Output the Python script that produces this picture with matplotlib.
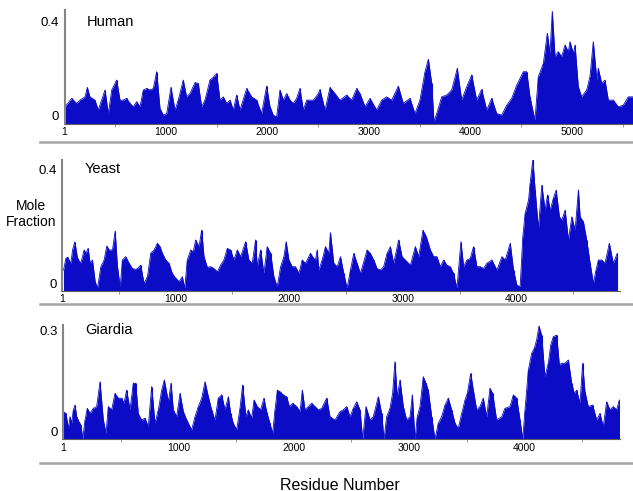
import matplotlib
matplotlib.use("Agg")
import matplotlib.pyplot as plt
from matplotlib.lines import Line2D

plt.rcParams['font.family'] = ['Liberation Sans', 'DejaVu Sans']

# residue number / mole fraction
human_res = [5, 71, 120, 153, 202, 225, 251, 300, 333, 366,
             399, 432, 465, 514, 547, 580, 612, 645, 678, 711,
             744, 777, 810, 842, 875, 908, 941, 974, 1007, 1049,
             1089, 1121, 1170, 1203, 1236, 1286, 1318, 1351, 1384, 1433,
             1466, 1499, 1532, 1565, 1598, 1631, 1663, 1696, 1729, 1795,
             1844, 1893, 1942, 1991, 2025, 2057, 2090, 2123, 2156, 2189,
             2222, 2254, 2287, 2320, 2353, 2386, 2452, 2501,
             2517, 2567, 2616, 2665, 2714, 2780, 2829, 2879, 2911, 2961,
             3010, 3076, 3125, 3174, 3224, 3289, 3338, 3404, 3453, 3502,
             3552, 3585, 3618, 3640, 3667, 3716, 3766, 3815, 3870, 3913,
             3963, 4012, 4061, 4110, 4160, 4209, 4258, 4307, 4357, 4406,
             4455, 4521, 4554, 4586, 4635, 4668, 4718, 4757, 4783, 4806,
             4833, 4865, 4898, 4931, 4964, 4980, 5013, 5030, 5062, 5095,
             5145, 5177, 5210, 5245, 5259, 5293, 5325, 5358, 5407, 5456,
             5505, 5555, 5601]
human_frac = [0.066, 0.099, 0.079, 0.092, 0.105, 0.142, 0.105, 0.092, 0.053, 0.092,
              0.132, 0.039, 0.132, 0.171, 0.092, 0.092, 0.099, 0.079, 0.066, 0.086,
              0.066, 0.132, 0.138, 0.132, 0.138, 0.204, 0.059, 0.033, 0.039, 0.142,
              0.053, 0.092, 0.171, 0.105, 0.118, 0.161, 0.158, 0.066, 0.092, 0.171,
              0.182, 0.197, 0.092, 0.105, 0.079, 0.092, 0.053, 0.112, 0.053, 0.138,
              0.105, 0.092, 0.039, 0.147, 0.066, 0.033, 0.026, 0.132, 0.092, 0.118,
              0.092, 0.079, 0.099, 0.138, 0.053, 0.092, 0.092, 0.118,
              0.134, 0.053, 0.142, 0.118, 0.092, 0.112, 0.092, 0.138, 0.118, 0.066,
              0.099, 0.053, 0.092, 0.105, 0.092, 0.147, 0.079, 0.099, 0.039, 0.092,
              0.204, 0.253, 0.158, 0.007, 0.039, 0.105, 0.112, 0.132, 0.217, 0.092,
              0.145, 0.191, 0.092, 0.134, 0.053, 0.099, 0.039, 0.033, 0.072, 0.099,
              0.151, 0.204, 0.204, 0.105, 0.013, 0.184, 0.237, 0.355, 0.276, 0.441,
              0.263, 0.283, 0.263, 0.309, 0.283, 0.322, 0.276, 0.309, 0.145, 0.105,
              0.132, 0.184, 0.322, 0.171, 0.217, 0.158, 0.171, 0.092, 0.092, 0.066,
              0.072, 0.105, 0.105]

yeast_res = [15, 35, 50, 79, 94, 114, 138, 167, 196, 211,
             231, 249, 269, 293, 313, 343, 372, 395, 416, 445,
             469, 489, 513, 533, 562, 592, 621, 650, 665, 694,
             723, 753, 782, 811, 841, 864, 885, 914, 943, 972,
             1002, 1031, 1060, 1081, 1104, 1134, 1157, 1177, 1207, 1230,
             1251, 1280, 1309, 1339, 1368, 1397, 1426, 1456, 1485, 1514,
             1544, 1573, 1617, 1646, 1675, 1705, 1719, 1749, 1778, 1807,
             1837, 1866, 1895, 1925, 1954, 1974, 1998, 2027, 2056, 2086,
             2115, 2144, 2188, 2217, 2247,
             2232, 2261, 2291, 2320, 2349, 2364, 2393, 2423, 2452, 2481,
             2510, 2540, 2569, 2598, 2627, 2657, 2686, 2715, 2745, 2774,
             2803, 2832, 2862, 2891, 2920, 2964, 2994, 3023, 3067, 3111,
             3140, 3178, 3207, 3243, 3272, 3301, 3330, 3360, 3389, 3418,
             3447, 3477, 3512, 3536, 3565, 3594, 3623, 3653, 3682, 3711,
             3740, 3784, 3829, 3873, 3902, 3946, 3975, 4004, 4033, 4057,
             4077, 4107, 4121, 4145, 4165, 4194, 4224, 4253, 4274, 4297,
             4326, 4350, 4379, 4400, 4429, 4458, 4488, 4517, 4546, 4561,
             4590, 4619, 4649, 4678, 4701, 4722, 4751, 4780, 4818, 4853,
             4888]
yeast_frac = [0.068, 0.106, 0.110, 0.090, 0.134, 0.161, 0.106, 0.090, 0.134, 0.123,
              0.139, 0.090, 0.101, 0.030, 0.008, 0.079, 0.101, 0.147, 0.134, 0.134,
              0.196, 0.079, 0.013, 0.101, 0.112, 0.090, 0.073, 0.070, 0.073, 0.084,
              0.024, 0.046, 0.123, 0.134, 0.156, 0.145, 0.123, 0.101, 0.090, 0.057,
              0.041, 0.030, 0.046, 0.008, 0.101, 0.134, 0.128, 0.167, 0.145, 0.199,
              0.112, 0.077, 0.079, 0.073, 0.062, 0.084, 0.101, 0.139, 0.134, 0.101,
              0.134, 0.112, 0.161, 0.101, 0.090, 0.167, 0.079, 0.134, 0.057, 0.145,
              0.123, 0.046, 0.013, 0.079, 0.112, 0.161, 0.101, 0.079, 0.079, 0.057,
              0.101, 0.090, 0.123, 0.106, 0.134,
              0.101, 0.068, 0.101, 0.145, 0.123, 0.191, 0.090, 0.079, 0.112, 0.057,
              0.008, 0.068, 0.123, 0.090, 0.057, 0.095, 0.134, 0.123, 0.101, 0.073,
              0.068, 0.079, 0.123, 0.145, 0.090, 0.167, 0.112, 0.101, 0.084, 0.145,
              0.112, 0.199, 0.178, 0.134, 0.112, 0.112, 0.079, 0.101, 0.084, 0.079,
              0.057, 0.008, 0.161, 0.079, 0.101, 0.106, 0.145, 0.079, 0.079, 0.073,
              0.090, 0.101, 0.068, 0.112, 0.101, 0.156, 0.068, 0.019, 0.013, 0.178,
              0.254, 0.298, 0.353, 0.432, 0.331, 0.205, 0.347, 0.265, 0.315, 0.265,
              0.304, 0.331, 0.243, 0.232, 0.265, 0.167, 0.243, 0.199, 0.331, 0.243,
              0.227, 0.167, 0.090, 0.024, 0.068, 0.101, 0.101, 0.090, 0.156, 0.090,
              0.123]

giardia_res = [3, 26, 46, 61, 75, 90, 104, 119, 139, 156,
               171, 191, 211, 234, 263, 292, 321, 350, 373, 393,
               422, 451, 480, 509, 529, 552, 581, 610, 630, 653,
               682, 711, 740, 769, 798, 827, 856, 879, 914, 937,
               957, 986, 1015, 1044, 1073, 1116, 1145, 1174, 1203, 1232,
               1261, 1289, 1318, 1347, 1376, 1405, 1434, 1454, 1477, 1506,
               1535, 1558, 1587, 1607, 1636, 1657, 1685, 1714, 1743, 1766,
               1795, 1818, 1839, 1859, 1882, 1911, 1940, 1963, 1992, 2027,
               2056, 2076, 2099, 2128, 2157, 2186, 2215,
               2244, 2287, 2316, 2359, 2402, 2431, 2461, 2489, 2518, 2547,
               2576, 2599, 2628, 2663, 2691, 2735, 2764, 2784, 2807, 2836,
               2859, 2879, 2899, 2923, 2952, 2981, 3010, 3030, 3053, 3073,
               3096, 3125, 3148, 3168, 3198, 3226, 3255, 3284, 3313, 3342,
               3371, 3400, 3428, 3458, 3487, 3507, 3536, 3559, 3588, 3617,
               3645, 3675, 3703, 3727, 3761, 3805, 3833, 3877, 3906, 3935,
               3964, 3987, 4007, 4036, 4065, 4088, 4108, 4128, 4152, 4180,
               4209, 4230, 4253, 4282, 4305, 4325, 4354, 4383, 4412, 4435,
               4455, 4484, 4507, 4527, 4556, 4594, 4629, 4657, 4686, 4715,
               4744, 4773, 4802, 4825]
giardia_frac = [0.076, 0.071, 0.030, 0.062, 0.044, 0.081, 0.094, 0.062, 0.048, 0.039,
                0.0, 0.053, 0.085, 0.071, 0.085, 0.090, 0.158, 0.053, 0.016, 0.090,
                0.081, 0.126, 0.113, 0.113, 0.099, 0.135, 0.081, 0.154, 0.154, 0.071,
                0.053, 0.058, 0.035, 0.145, 0.044, 0.081, 0.135, 0.163, 0.103, 0.154,
                0.081, 0.062, 0.126, 0.076, 0.053, 0.026, 0.062, 0.090, 0.113, 0.158,
                0.117, 0.081, 0.053, 0.113, 0.122, 0.081, 0.117, 0.071, 0.044, 0.026,
                0.085, 0.149, 0.062, 0.081, 0.058, 0.108, 0.090, 0.081, 0.113, 0.076,
                0.044, 0.016, 0.081, 0.135, 0.131, 0.122, 0.117, 0.090, 0.099, 0.090,
                0.076, 0.135, 0.081, 0.090, 0.099, 0.090, 0.081,
                0.085, 0.113, 0.062, 0.053, 0.076, 0.081, 0.090, 0.062, 0.085, 0.103,
                0.081, 0.0, 0.090, 0.053, 0.062, 0.117, 0.071, 0.0, 0.062, 0.085,
                0.126, 0.213, 0.117, 0.163, 0.090, 0.053, 0.062, 0.122, 0.0, 0.062,
                0.090, 0.172, 0.154, 0.135, 0.062, 0.0, 0.044, 0.062, 0.094, 0.113,
                0.081, 0.044, 0.030, 0.071, 0.108, 0.126, 0.181, 0.135, 0.081, 0.090,
                0.113, 0.062, 0.140, 0.126, 0.053, 0.062, 0.085, 0.090, 0.122, 0.113,
                0.053, 0.0, 0.081, 0.190, 0.236, 0.250, 0.273, 0.311, 0.286, 0.172,
                0.209, 0.259, 0.282, 0.286, 0.204, 0.209, 0.209, 0.218, 0.154, 0.126,
                0.135, 0.099, 0.209, 0.131, 0.090, 0.094, 0.053, 0.071, 0.035, 0.103,
                0.081, 0.090, 0.081, 0.108]

names = ['Human', 'Yeast', 'Giardia']
xtick_vals = [[1, 1000, 2000, 3000, 4000, 5000],
              [1, 1000, 2000, 3000, 4000],
              [1, 1000, 2000, 3000, 4000]]
ytop_label = ['0.4', '0.4', '0.3']

W, H = 633, 491
BLUE = '#0c0cc6'

fig = plt.figure(figsize=(W / 100, H / 100), dpi=100)
fig.patch.set_facecolor('white')


def px_axes(x0, x1, ytop, ybot):
    return fig.add_axes([x0 / W, 1 - ybot / H, (x1 - x0) / W, (ybot - ytop) / H])


# pixel boxes and axis limits for each panel
boxes = [(64.5, 633, 10, 123.5), (62, 620, 160, 290.7), (63, 620, 325, 439.3)]
xlims = [(0, 5601), (9, 4912), (0, 4831)]
ylims = [(0, 0.447), (0, 0.43), (0, 0.314)]
series = [(human_res, human_frac), (yeast_res, yeast_frac), (giardia_res, giardia_frac)]

for i in range(3):
    ax = px_axes(*boxes[i])
    res, frac = series[i]
    # yeast list has a small overlap from the two halves; sort by residue
    pairs = sorted(zip(res, frac))
    r = [p[0] for p in pairs]
    f = [p[1] for p in pairs]
    ax.fill_between(r, f, 0, color=BLUE, lw=0)
    ax.plot(r, f, color=BLUE, lw=0.6)
    ax.vlines(r, 0, f, color=BLUE, lw=0.8)
    ax.set_xlim(*xlims[i])
    ax.set_ylim(*ylims[i])
    for s in ['top', 'right']:
        ax.spines[s].set_visible(False)
    ax.spines['left'].set_color('#858585')
    ax.spines['left'].set_linewidth(1.5)
    ax.spines['bottom'].set_color('#606060')
    ax.spines['bottom'].set_linewidth(0.8)
    ax.set_xticks(xtick_vals[i])
    ax.set_xticklabels([str(v) for v in xtick_vals[i]], fontsize=7.5)
    ax.set_xticks(range(500, int(xlims[i][1]), 1000), minor=True)
    ax.tick_params(axis='x', which='major', length=0, pad=2.5)
    ax.tick_params(axis='x', which='minor', length=2, width=0.6, color='#888888')
    top = float(ytop_label[i])
    ax.set_yticks([0, top])
    ax.set_yticklabels(['0', ytop_label[i]], fontsize=9.5)
    ax.tick_params(axis='y', length=0, pad=4)
    ax.get_yticklabels()[0].set_va('bottom')
    ax.text(0.04, top, names[i], transform=ax.get_yaxis_transform(),
            fontsize=10.5, ha='left', va='center')

# grey separator lines under each panel
for yp in [142, 304, 463]:
    fig.add_artist(Line2D([40 / W, 1.0], [1 - yp / H, 1 - yp / H],
                          color='#a5a5a5', lw=1.8))

fig.text(31 / W, 1 - 214 / H, 'Mole\nFraction', ha='center', va='center',
         fontsize=10, linespacing=1.2)
fig.text(340 / W, 1 - 485 / H, 'Residue Number', ha='center', va='center',
         fontsize=11.5)

fig.savefig('out.png', dpi=100)
